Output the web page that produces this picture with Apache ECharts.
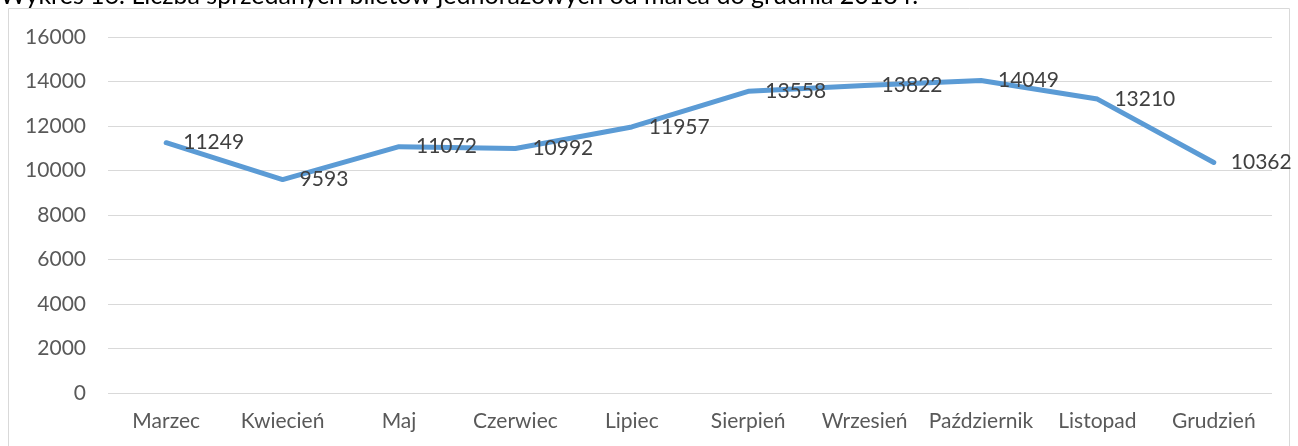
<!DOCTYPE html>
<html lang="pl">
<head>
<meta charset="UTF-8">
<title>Wykres 16</title>
<style>
    * { padding: 0; margin: 0; box-sizing: border-box; }
    html, body { width: 100%; height: 100%; overflow: hidden; background: #fff; }
    #box { width: 1298px; height: 446px; }
</style>
</head>
<body>
<div id="box"></div>
<script src="https://cdn.jsdelivr.net/npm/echarts@6/dist/echarts.min.js"></script>
<script>
    var titleText = 'Wykres 16. Liczba sprzedanych biletów jednorazowych od marca do grudnia 2018 r.';
    var months = ['Marzec', 'Kwiecień', 'Maj', 'Czerwiec', 'Lipiec', 'Sierpień', 'Wrzesień', 'Październik', 'Listopad', 'Grudzień'];
    var tickets = [11249, 9593, 11072, 10992, 11957, 13558, 13822, 14049, 13210, 10362];

    var font = 'Lato, "Noto Sans", sans-serif';
    var chart = echarts.init(document.getElementById('box'));
    var option = {
        animation: false,
        textStyle: { fontFamily: font },
        graphic: [
            {
                type: 'rect',
                shape: { x: 8.5, y: 8.5, width: 1281, height: 450 },
                style: { fill: 'none', stroke: '#d9d9d9', lineWidth: 1 },
                silent: true
            },
            {
                type: 'text',
                left: 0,
                top: -17,
                style: { text: titleText, fill: '#000', font: '25px ' + font }
            }
        ],
        grid: { left: 108, right: 26, top: 37, bottom: 53 },
        xAxis: {
            type: 'category',
            data: months,
            axisLine: { show: false },
            axisTick: { show: false },
            axisLabel: { color: '#595959', fontSize: 21, margin: 18, interval: 0 }
        },
        yAxis: {
            type: 'value',
            min: 0,
            max: 16000,
            interval: 2000,
            axisLabel: { color: '#595959', fontSize: 21, margin: 22, formatter: function (v) { return String(v); } },
            splitLine: { lineStyle: { color: '#d9d9d9', width: 1 } }
        },
        series: [{
            type: 'line',
            data: tickets,
            symbol: 'circle',
            symbolSize: 2,
            showSymbol: true,
            itemStyle: { color: '#5b9bd5' },
            lineStyle: { color: '#5b9bd5', width: 5, cap: 'round', join: 'round' },
            label: {
                show: true,
                position: 'right',
                distance: 16,
                color: '#404040',
                fontSize: 21
            },
            labelLayout: { hideOverlap: false }
        }]
    };
    chart.setOption(option);
</script>
</body>
</html>
